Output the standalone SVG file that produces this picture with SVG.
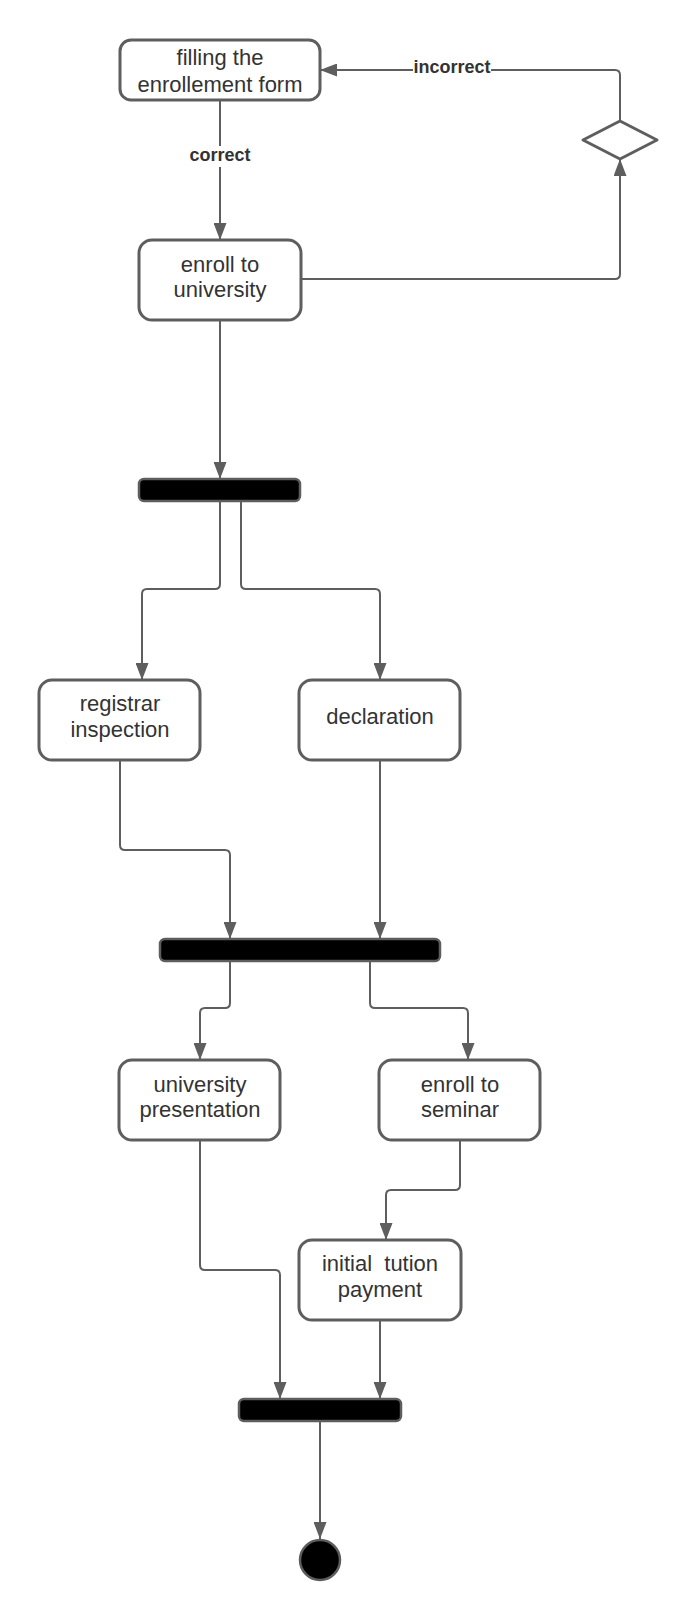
<svg xmlns="http://www.w3.org/2000/svg" width="700" height="1620" viewBox="0 0 700 1620">
<defs>
<style>
.node{fill:#fff;stroke:#5e5e5e;stroke-width:3}
.bar{fill:#000;stroke:#5e5e5e;stroke-width:2.5}
.t{font-family:"Liberation Sans",Arial,sans-serif;font-size:22px;fill:#333;text-anchor:middle;white-space:pre}
.lbl{font-family:"Liberation Sans",Arial,sans-serif;font-size:18px;font-weight:bold;fill:#333;text-anchor:middle}
.edge{fill:none;stroke:#5e5e5e;stroke-width:2}
</style>
<marker id="arr" markerUnits="userSpaceOnUse" markerWidth="17" markerHeight="13" refX="17" refY="6.5" orient="auto">
<path d="M0,0 L17,6.5 L0,13 z" fill="#5e5e5e"/>
</marker>
</defs>
<rect width="700" height="1620" fill="#fff"/>
<g id="connectors">
<path class="edge" d="M220,100 L220,240" marker-end="url(#arr)"/>
<path class="edge" d="M301,279 L615,279 Q620,279 620,274 L620,159" marker-end="url(#arr)"/>
<path class="edge" d="M620,121 L620,75 Q620,70 615,70 L320,70" marker-end="url(#arr)"/>
<path class="edge" d="M220,320 L220,479" marker-end="url(#arr)"/>
<path class="edge" d="M220,501 L220,584 Q220,589 215,589 L147,589 Q142,589 142,594 L142,680" marker-end="url(#arr)"/>
<path class="edge" d="M241,501 L241,584 Q241,589 246,589 L375,589 Q380,589 380,594 L380,680" marker-end="url(#arr)"/>
<path class="edge" d="M120,760 L120,845 Q120,850 125,850 L225,850 Q230,850 230,855 L230,939" marker-end="url(#arr)"/>
<path class="edge" d="M380,760 L380,939" marker-end="url(#arr)"/>
<path class="edge" d="M230,961 L230,1003 Q230,1008 225,1008 L205,1008 Q200,1008 200,1013 L200,1060" marker-end="url(#arr)"/>
<path class="edge" d="M370,961 L370,1003 Q370,1008 375,1008 L463,1008 Q468,1008 468,1013 L468,1060" marker-end="url(#arr)"/>
<path class="edge" d="M200,1140 L200,1265 Q200,1270 205,1270 L275,1270 Q280,1270 280,1275 L280,1399" marker-end="url(#arr)"/>
<path class="edge" d="M460,1140 L460,1185 Q460,1190 455,1190 L391,1190 Q386,1190 386,1195 L386,1240" marker-end="url(#arr)"/>
<path class="edge" d="M380,1320 L380,1399" marker-end="url(#arr)"/>
<path class="edge" d="M320,1421 L320,1539" marker-end="url(#arr)"/>
<rect x="188" y="146" width="64" height="21" fill="#fff"/>
<text class="lbl" x="220" y="161">correct</text>
<rect x="413" y="60" width="78" height="20" fill="#fff"/>
<text class="lbl" x="452" y="73">incorrect</text>
</g>
<g id="filling">
<rect class="node" x="120" y="40" width="200" height="60" rx="11"/>
<text class="t" x="220" y="65">filling the</text>
<text class="t" x="220" y="92">enrollement form</text>
</g>
<g id="enroll-university">
<rect class="node" x="139" y="240" width="162" height="80" rx="13"/>
<text class="t" x="220" y="272">enroll to</text>
<text class="t" x="220" y="297">university</text>
</g>
<g id="decision">
<path class="node" d="M620,121 L657,140 L620,159 L583,140 Z" stroke-linejoin="round"/>
</g>
<g id="fork1">
<rect class="bar" x="139" y="479" width="161" height="22" rx="5"/>
</g>
<g id="registrar">
<rect class="node" x="39" y="680" width="161" height="80" rx="13"/>
<text class="t" x="120" y="711">registrar</text>
<text class="t" x="120" y="737">inspection</text>
</g>
<g id="declaration">
<rect class="node" x="299" y="680" width="161" height="80" rx="13"/>
<text class="t" x="380" y="724">declaration</text>
</g>
<g id="join1">
<rect class="bar" x="160" y="939" width="280" height="22" rx="5"/>
</g>
<g id="presentation">
<rect class="node" x="119" y="1060" width="161" height="80" rx="13"/>
<text class="t" x="200" y="1092">university</text>
<text class="t" x="200" y="1117">presentation</text>
</g>
<g id="seminar">
<rect class="node" x="379" y="1060" width="161" height="80" rx="13"/>
<text class="t" x="460" y="1092">enroll to</text>
<text class="t" x="460" y="1117">seminar</text>
</g>
<g id="payment">
<rect class="node" x="299" y="1240" width="162" height="80" rx="13"/>
<text class="t" x="380" y="1271" xml:space="preserve">initial  tution</text>
<text class="t" x="380" y="1297">payment</text>
</g>
<g id="join2">
<rect class="bar" x="239" y="1399" width="162" height="22" rx="5"/>
</g>
<g id="end">
<circle cx="320" cy="1560" r="20" fill="#000" stroke="#5e5e5e" stroke-width="2.5"/>
</g>
</svg>
